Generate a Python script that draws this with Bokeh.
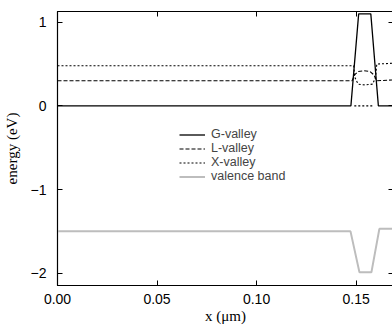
from bokeh.plotting import figure
from bokeh.models import (LinearAxis, Legend, LegendItem, FixedTicker, Range1d,
                          CustomLabelingPolicy)
from bokeh.embed import file_html
from bokeh.resources import INLINE
import numpy as np

# ---- data ----
g_x = [0.0, 0.1474, 0.1513, 0.1574, 0.1612, 0.1688]
g_y = [0.0, 0.0, 1.10, 1.10, 0.0, 0.0]

l_x = [0.0, 0.1480, 0.1492, 0.1510, 0.1540, 0.1570, 0.1590, 0.1603, 0.1688]
l_y = [0.30, 0.30, 0.37, 0.41, 0.42, 0.41, 0.37, 0.30, 0.31]

x_x = [0.0, 0.1488, 0.1494, 0.1510, 0.1545, 0.1583, 0.1598, 0.1604, 0.1688,
       np.nan, 0.1491, 0.1591]
x_y = [0.48, 0.48, 0.34, 0.26, 0.25, 0.26, 0.34, 0.50, 0.51,
       np.nan, 0.0, 0.0]

v_x = [0.0, 0.1472, 0.1517, 0.1577, 0.1617, 0.1688]
v_y = [-1.50, -1.50, -1.99, -1.99, -1.47, -1.47]

x_ticks = [0.0, 0.05, 0.10, 0.15]
y_ticks = [-2, -1, 0, 1]

p = figure(frame_width=336, frame_height=274, output_backend="svg",
           toolbar_location=None, x_range=Range1d(0, 0.1688),
           y_range=Range1d(-2.147, 1.128),
           min_border_left=47, min_border_right=0, min_border_top=0,
           min_border_bottom=30, background_fill_color="white",
           border_fill_color="white")
p.grid.visible = False
p.outline_line_color = "black"
p.outline_line_width = 1.2

tick_font = "Liberation Sans"
for ax in (p.xaxis[0], p.yaxis[0]):
    ax.major_tick_in = 5
    ax.major_tick_out = 0
    ax.minor_tick_line_color = None
    ax.major_label_text_font = tick_font
    ax.major_label_text_font_size = "14px"
    ax.major_label_text_color = "black"
    ax.axis_line_color = "black"
    ax.axis_label_text_font = "Liberation Serif"
    ax.axis_label_text_font_size = "15px"
    ax.axis_label_text_font_style = "normal"
    ax.axis_label_text_color = "black"

p.xaxis[0].ticker = FixedTicker(ticks=x_ticks)
p.yaxis[0].ticker = FixedTicker(ticks=y_ticks)
p.xaxis[0].major_label_overrides = {0.0: "0.00", 0.05: "0.05", 0.1: "0.10", 0.15: "0.15"}
p.xaxis[0].major_label_standoff = 8
p.yaxis[0].major_label_standoff = 11
p.xaxis[0].axis_label = "x (\u03bcm)"
p.xaxis[0].axis_label_standoff = 1
p.yaxis[0].axis_label = "energy (eV)"
p.yaxis[0].axis_label_standoff = 8

top = LinearAxis(ticker=FixedTicker(ticks=x_ticks),
                 major_label_policy=CustomLabelingPolicy(code="if (false) { yield 0 }"),
                 major_tick_in=5, major_tick_out=0, minor_tick_line_color=None,
                 axis_line_color=None, major_label_standoff=0,
                 major_tick_line_color="black")
right = LinearAxis(ticker=FixedTicker(ticks=y_ticks),
                   major_label_policy=CustomLabelingPolicy(code="if (false) { yield 0 }"),
                   major_tick_in=5, major_tick_out=0, minor_tick_line_color=None,
                   axis_line_color=None, major_label_standoff=0,
                   major_tick_line_color="black")
p.add_layout(top, "above")
p.add_layout(right, "right")

r_g = p.line(g_x, g_y, line_color="black", line_width=1.3)
r_l = p.line(l_x, l_y, line_color="black", line_width=1.1, line_dash="4 2")
r_x = p.line(x_x, x_y, line_color="black", line_width=1.1, line_dash="2 2")
r_v = p.line(v_x, v_y, line_color="#bdbdbd", line_width=2.0)

legend = Legend(items=[
    LegendItem(label="G-valley", renderers=[r_g]),
    LegendItem(label="L-valley", renderers=[r_l]),
    LegendItem(label="X-valley", renderers=[r_x]),
    LegendItem(label="valence band", renderers=[r_v]),
], location=(122, 102), background_fill_alpha=0, border_line_color=None,
    label_text_font=tick_font, label_text_font_size="12.5px",
    label_text_line_height=0.8,
    glyph_width=26, glyph_height=9, label_height=9, spacing=0,
    padding=0, margin=0, label_standoff=6)
p.add_layout(legend, "center")

open("out.html", "w").write(file_html(p, INLINE))
